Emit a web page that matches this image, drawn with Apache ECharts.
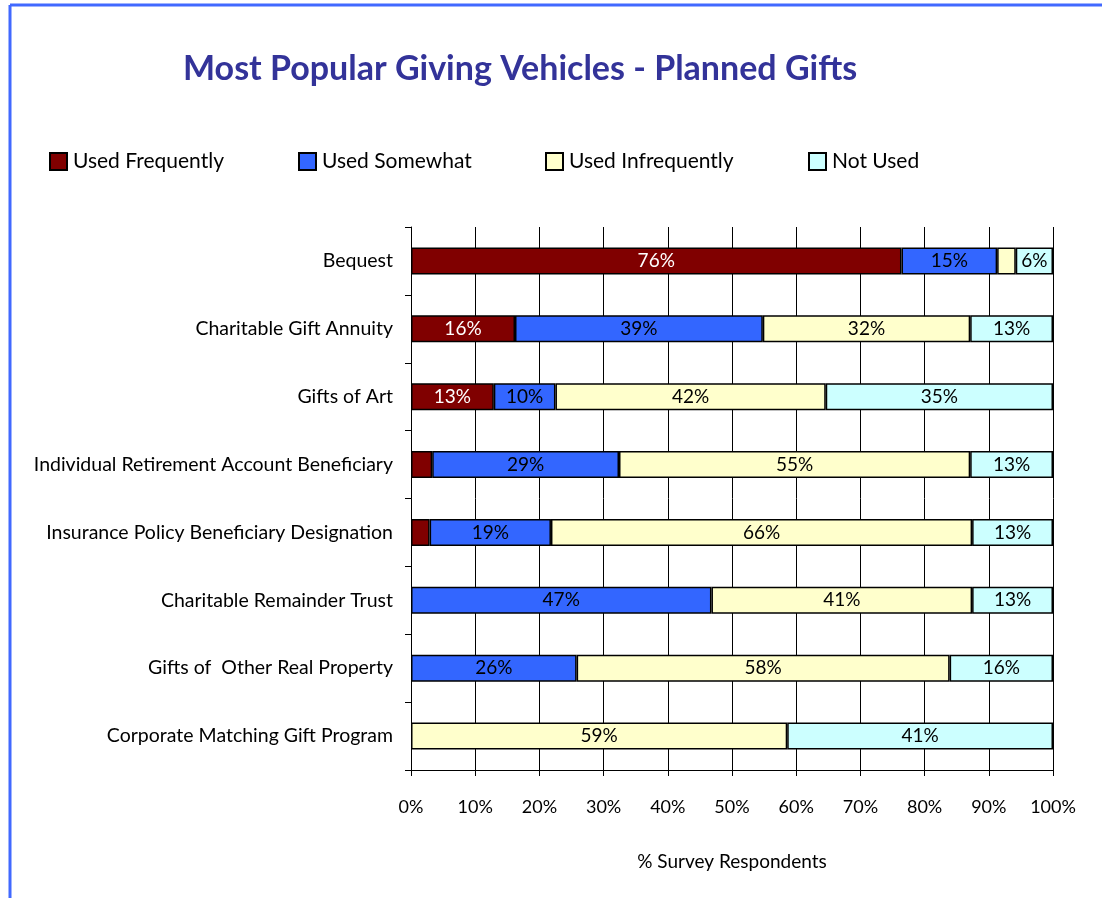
<!DOCTYPE html>
<html>
<head>
<meta charset="utf-8">
<script src="https://cdn.jsdelivr.net/npm/echarts@6/dist/echarts.min.js"></script>
<style>
html,body{margin:0;padding:0;background:#fff;}
#chart{width:1102px;height:898px;}
</style>
</head>
<body>
<div id="chart"></div>
<script>
const categories = [
  'Bequest',
  'Charitable Gift Annuity',
  'Gifts of Art',
  'Individual Retirement Account Beneficiary',
  'Insurance Policy Beneficiary Designation',
  'Charitable Remainder Trust',
  'Gifts of  Other Real Property',
  'Corporate Matching Gift Program'
];
const seriesNames = ['Used Frequently', 'Used Somewhat', 'Used Infrequently', 'Not Used'];
const usedFrequently   = [76.4, 16.2, 12.9, 3.3, 2.9, 0, 0, 0];
const usedSomewhat     = [14.9, 38.6, 9.6, 29.1, 18.9, 46.8, 25.8, 0];
const usedInfrequently = [2.9, 32.3, 42.1, 54.7, 65.6, 40.6, 58.1, 58.6];
const notUsed          = [5.8, 12.9, 35.4, 12.9, 12.6, 12.6, 16.1, 41.4];
const xTicks = [0, 10, 20, 30, 40, 50, 60, 70, 80, 90, 100];

const colors = ['#800000', '#3366FF', '#FFFFCC', '#CCFFFF'];
const labelColors = ['#ffffff', '#000000', '#000000', '#000000'];
const values = [usedFrequently, usedSomewhat, usedInfrequently, notUsed];
const FONT = 'Lato, "Open Sans", sans-serif';

const chart = echarts.init(document.getElementById('chart'), null, {renderer: 'canvas'});

const legendLefts = [49, 298, 545, 808];
const legends = seriesNames.map((n, i) => ({
  data: [n],
  left: legendLefts[i],
  top: 151,
  padding: 0,
  itemWidth: 17,
  itemHeight: 17,
  itemGap: 6,
  icon: 'rect',
  textStyle: {fontFamily: FONT, fontSize: 21, color: '#000', padding: [0, 0, 0, 1]},
  selectedMode: false
}));

const series = seriesNames.map((n, i) => ({
  name: n,
  type: 'bar',
  stack: 'total',
  barWidth: 27,
  data: values[i].map(v => v === 0 ? '-' : v),
  itemStyle: {color: colors[i], borderColor: '#000', borderWidth: 1.5},
  label: {
    show: true,
    position: 'inside',
    fontFamily: FONT,
    fontSize: 19,
    color: labelColors[i],
    formatter: p => p.value >= 5 ? Math.round(p.value) + '%' : ''
  },
  emphasis: {disabled: true}
}));

chart.setOption({
  animation: false,
  backgroundColor: '#fff',
  title: {
    text: 'Most Popular Giving Vehicles - Planned Gifts',
    left: 178,
    top: 47,
    textStyle: {fontFamily: FONT, fontWeight: 'bold', fontSize: 34, color: '#333399'}
  },
  legend: legends,
  grid: {left: 411, right: 49, top: 227, bottom: 128, containLabel: false},
  xAxis: {
    type: 'value',
    min: xTicks[0],
    max: xTicks[xTicks.length - 1],
    interval: 10,
    name: '% Survey Respondents',
    nameLocation: 'middle',
    nameGap: 82,
    nameTextStyle: {fontFamily: FONT, fontSize: 19, color: '#000'},
    axisLine: {show: true, lineStyle: {color: '#000', width: 1}},
    axisTick: {show: true, length: 6, lineStyle: {color: '#000'}},
    axisLabel: {fontFamily: FONT, fontSize: 18, color: '#000', margin: 28, formatter: '{value}%'},
    splitLine: {show: true, lineStyle: {color: '#000', width: 1}}
  },
  yAxis: {
    type: 'category',
    data: categories,
    inverse: true,
    axisLine: {show: true, lineStyle: {color: '#000', width: 1}},
    axisTick: {show: true, length: 6, inside: false, lineStyle: {color: '#000'}},
    axisLabel: {fontFamily: FONT, fontSize: 19.5, color: '#000', margin: 18},
    splitLine: {show: false}
  },
  graphic: [
    {type: 'line', shape: {x1: 10, y1: 5, x2: 1102, y2: 5}, style: {stroke: '#4169FF', lineWidth: 3}},
    {type: 'line', shape: {x1: 10, y1: 5, x2: 10, y2: 898}, style: {stroke: '#4169FF', lineWidth: 3}}
  ],
  series: series
});
</script>
</body>
</html>
